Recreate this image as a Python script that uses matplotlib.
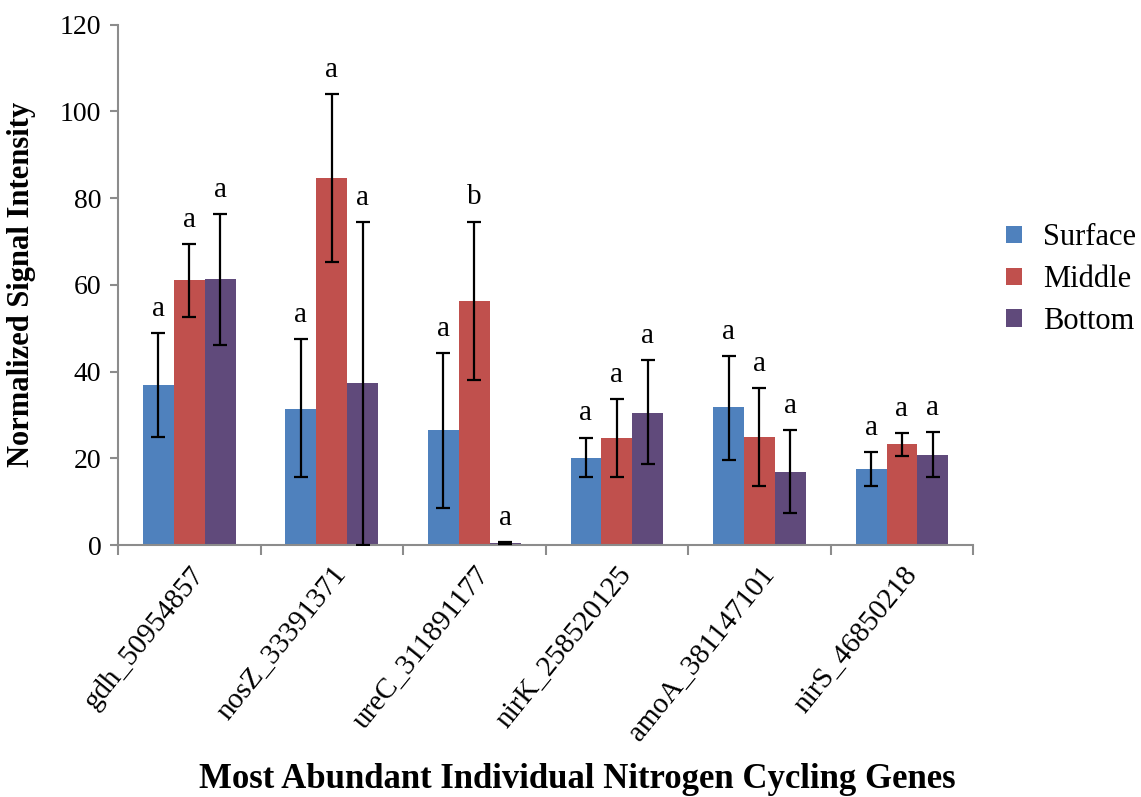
import numpy as np
import matplotlib.pyplot as plt
import matplotlib.ticker as ticker

plt.rcParams['font.family'] = ['Liberation Serif', 'DejaVu Serif']

genes = ['gdh_50954857', 'nosZ_33391371', 'ureC_311891177',
         'nirK_258520125', 'amoA_381147101', 'nirS_46850218']
series = ['Surface', 'Middle', 'Bottom']

surface = [37.0, 31.5, 26.5, 20.2, 31.8, 17.6]
middle = [61.1, 84.6, 56.2, 24.8, 25.0, 23.3]
bottom = [61.3, 37.4, 0.5, 30.5, 16.9, 20.9]

# нижняя и верхняя границы планок погрешностей
surface_lo = [25.0, 15.6, 8.5, 15.6, 19.6, 13.6]
surface_hi = [48.9, 47.6, 44.2, 24.8, 43.6, 21.4]
middle_lo = [52.6, 65.2, 38.0, 15.6, 13.6, 20.6]
middle_hi = [69.4, 104.0, 74.6, 33.6, 36.2, 25.9]
bottom_lo = [46.2, 0.0, 0.3, 18.6, 7.4, 15.8]
bottom_hi = [76.3, 74.5, 0.8, 42.6, 26.5, 26.0]

letters = [['a', 'a', 'a', 'a', 'a', 'a'],
           ['a', 'a', 'b', 'a', 'a', 'a'],
           ['a', 'a', 'a', 'a', 'a', 'a']]

colors = ['#4F81BD', '#C0504D', '#604A7B']

fig = plt.figure(figsize=(11.41, 7.97), dpi=100)
ax = fig.add_axes([0.1034, 0.316, 0.7496, 0.653])

x = np.arange(len(genes))
w = 0.217
vals = [surface, middle, bottom]
los = [surface_lo, middle_lo, bottom_lo]
his = [surface_hi, middle_hi, bottom_hi]

for i in range(3):
    v = np.array(vals[i])
    lo = np.array(los[i])
    hi = np.array(his[i])
    pos = x + (i - 1) * w
    ax.bar(pos, v, width=w, color=colors[i], label=series[i], zorder=2)
    ax.errorbar(pos, v, yerr=[v - lo, hi - v], fmt='none', ecolor='black',
                elinewidth=1.6, capsize=5, capthick=1.6, zorder=3)
    for j in range(len(genes)):
        ax.annotate(letters[i][j], (pos[j], hi[j]), xytext=(0, 8),
                    textcoords='offset points', ha='center', va='bottom',
                    fontsize=21)

ax.set_xlim(-0.5, len(genes) - 0.5)
ax.set_ylim(0, 120)
ax.yaxis.set_major_locator(ticker.MultipleLocator(20))

ax.set_xticks(x)
ax.set_xticklabels(genes, rotation=51, ha='right', rotation_mode='anchor', fontsize=21)
ax.set_xticks(np.arange(-0.5, len(genes)), minor=True)
ax.tick_params(axis='x', which='major', length=0, pad=12)
ax.tick_params(axis='x', which='minor', length=7, width=1.5, color='#8c8c8c')
ax.tick_params(axis='y', length=6, width=1.5, color='#8c8c8c', labelsize=20, pad=6)

for s in ['top', 'right']:
    ax.spines[s].set_visible(False)
for s in ['left', 'bottom']:
    ax.spines[s].set_color('#8c8c8c')
    ax.spines[s].set_linewidth(1.5)

ax.set_ylabel('Normalized Signal Intensity', fontsize=22, fontweight='bold')
ax.yaxis.set_label_coords(-0.096, 0.5)
fig.text(0.506, 0.022, 'Most Abundant Individual Nitrogen Cycling Genes',
         ha='center', va='center', fontsize=25, fontweight='bold')

ax.legend(loc='center left', bbox_to_anchor=(0.871, 0.649),
          bbox_transform=fig.transFigure, frameon=False, borderaxespad=0,
          fontsize=22, handlelength=0.52, handleheight=0.52, labelspacing=0.42,
          handletextpad=0.69)

fig.savefig('out.png', dpi=100)
